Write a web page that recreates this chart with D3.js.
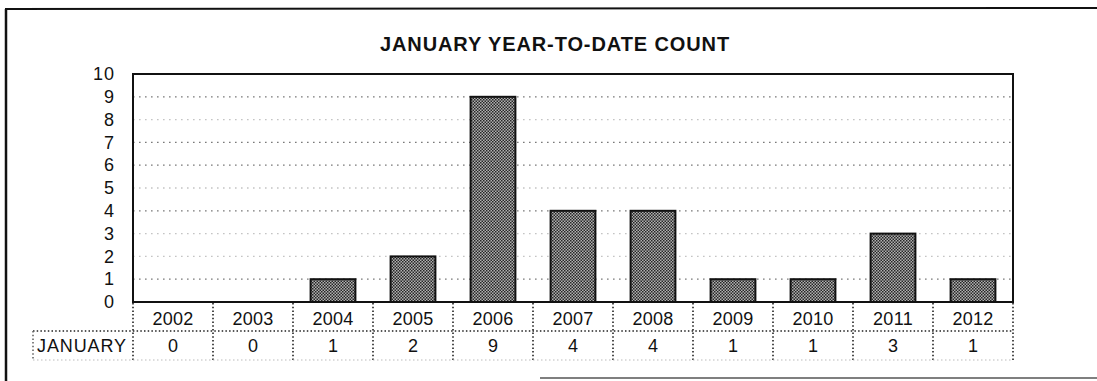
<!DOCTYPE html>
<html>
<head>
<meta charset="utf-8">
<script src="https://cdn.jsdelivr.net/npm/d3@7"></script>
<style>
  html, body { margin: 0; padding: 0; background: #fff; }
  svg { display: block; }
  text { font-family: "Liberation Sans", Arial, sans-serif; fill: #111; }
</style>
</head>
<body>
<svg id="chart" width="1097" height="381"></svg>
<script>
// Chart data
const chartTitle = "JANUARY YEAR-TO-DATE COUNT";
const years = ["2002", "2003", "2004", "2005", "2006", "2007", "2008", "2009", "2010", "2011", "2012"];
const januaryCounts = [0, 0, 1, 2, 9, 4, 4, 1, 1, 3, 1];
const seriesName = "JANUARY";
const yTicks = [0, 1, 2, 3, 4, 5, 6, 7, 8, 9, 10];
const faintGridTicks = [2, 3, 5, 8];

const svg = d3.select("#chart");
const W = 1097, H = 381;
const plot = { left: 133, right: 1013, top: 74, bottom: 302 };
const tableRow1 = 331, tableRow2 = 360, headerLeft = 33;

// Checkered halftone fill for the bars
const defs = svg.append("defs");
const pat = defs.append("pattern")
  .attr("id", "dither").attr("patternUnits", "userSpaceOnUse")
  .attr("width", 3).attr("height", 3);
pat.append("rect").attr("width", 3).attr("height", 3).attr("fill", "#b0b0b0");
pat.append("rect").attr("x", 0).attr("y", 0).attr("width", 1.5).attr("height", 1.5).attr("fill", "#262626");
pat.append("rect").attr("x", 1.5).attr("y", 1.5).attr("width", 1.5).attr("height", 1.5).attr("fill", "#262626");

// Outer frame
svg.append("line").attr("x1", 6).attr("x2", 6).attr("y1", 9).attr("y2", H)
  .attr("stroke", "#111").attr("stroke-width", 2.5);
svg.append("line").attr("x1", 5).attr("x2", W).attr("y1", 9).attr("y2", 8)
  .attr("stroke", "#111").attr("stroke-width", 2);
svg.append("line").attr("x1", 540).attr("x2", W).attr("y1", 378).attr("y2", 378)
  .attr("stroke", "#555").attr("stroke-width", 1.5);

// Title
svg.append("text")
  .attr("x", 555).attr("y", 51)
  .attr("text-anchor", "middle")
  .style("font-weight", "bold").style("font-size", "20px").style("letter-spacing", "0.9px")
  .text(chartTitle);

// Scales
const x = d3.scaleBand().domain(years).range([plot.left, plot.right])
  .paddingInner(0.44).paddingOuter(0.22);
const y = d3.scaleLinear().domain([0, 10]).range([plot.bottom, plot.top]);
const step = x.step();

// Dotted gridlines (some printed lighter than others)
svg.append("g").selectAll("line")
  .data(yTicks.filter(t => t > 0 && t < 10))
  .join("line")
  .attr("x1", plot.left).attr("x2", plot.right)
  .attr("y1", d => y(d)).attr("y2", d => y(d))
  .attr("stroke", d => faintGridTicks.includes(d) ? "#c4c4c4" : "#7a7a7a")
  .attr("stroke-width", 1.3)
  .attr("stroke-dasharray", "1.6,4.4");

// Y axis labels
const yAxis = d3.axisLeft(y).tickValues(yTicks).tickSize(0).tickPadding(18).tickFormat(d3.format("d"));
const gy = svg.append("g").attr("transform", `translate(${plot.left},0)`).call(yAxis);
gy.select(".domain").remove();
gy.selectAll("text")
  .style("font-family", "'Liberation Sans', Arial, sans-serif")
  .style("font-size", "18px").style("letter-spacing", "1px").attr("fill", "#111");

// Bars
svg.append("g").selectAll("rect")
  .data(years.map((yr, i) => ({ yr, v: januaryCounts[i] })).filter(d => d.v > 0))
  .join("rect")
  .attr("x", d => x(d.yr))
  .attr("y", d => y(d.v))
  .attr("width", x.bandwidth())
  .attr("height", d => y(0) - y(d.v))
  .attr("fill", "url(#dither)")
  .attr("stroke", "#111").attr("stroke-width", 2);

// Plot frame
svg.append("rect")
  .attr("x", plot.left).attr("y", plot.top)
  .attr("width", plot.right - plot.left).attr("height", plot.bottom - plot.top)
  .attr("fill", "none").attr("stroke", "#111").attr("stroke-width", 2);

// Data table under the axis
const dotted = sel => sel.attr("stroke", "#222").attr("stroke-width", 1.6).attr("stroke-dasharray", "1.5,2.2");
const boundaries = years.map(yr => x(yr) - (step - x.bandwidth()) / 2).concat([plot.right]);
svg.append("g").selectAll("line")
  .data(boundaries)
  .join("line")
  .attr("x1", d => d).attr("x2", d => d)
  .attr("y1", plot.bottom + 1).attr("y2", tableRow2)
  .call(dotted);
svg.append("line").attr("x1", headerLeft).attr("x2", plot.right)
  .attr("y1", tableRow1).attr("y2", tableRow1).call(dotted);
svg.append("line").attr("x1", headerLeft).attr("x2", headerLeft)
  .attr("y1", tableRow1).attr("y2", tableRow2).call(dotted).attr("stroke", "#666");
svg.append("line").attr("x1", headerLeft).attr("x2", plot.right)
  .attr("y1", tableRow2).attr("y2", tableRow2)
  .attr("stroke", "#bbb").attr("stroke-width", 1.2).attr("stroke-dasharray", "1.5,2.5");

// Category (year) labels
const xAxis = d3.axisBottom(x).tickSize(0).tickPadding(0);
const gx = svg.append("g").attr("transform", `translate(0,${plot.bottom})`).call(xAxis);
gx.select(".domain").remove();
gx.selectAll("text")
  .attr("dy", null).attr("y", 23)
  .style("font-family", "'Liberation Sans', Arial, sans-serif")
  .style("font-size", "18px").style("letter-spacing", "0.3px").attr("fill", "#111");

// Value row
svg.append("text").attr("x", 37).attr("y", 352)
  .style("font-size", "18px").style("letter-spacing", "0.9px")
  .text(seriesName);
svg.append("g").selectAll("text")
  .data(years.map((yr, i) => ({ yr, v: januaryCounts[i] })))
  .join("text")
  .attr("x", d => x(d.yr) + x.bandwidth() / 2)
  .attr("y", 352)
  .attr("text-anchor", "middle")
  .style("font-size", "18px")
  .text(d => d.v);
</script>
</body>
</html>
